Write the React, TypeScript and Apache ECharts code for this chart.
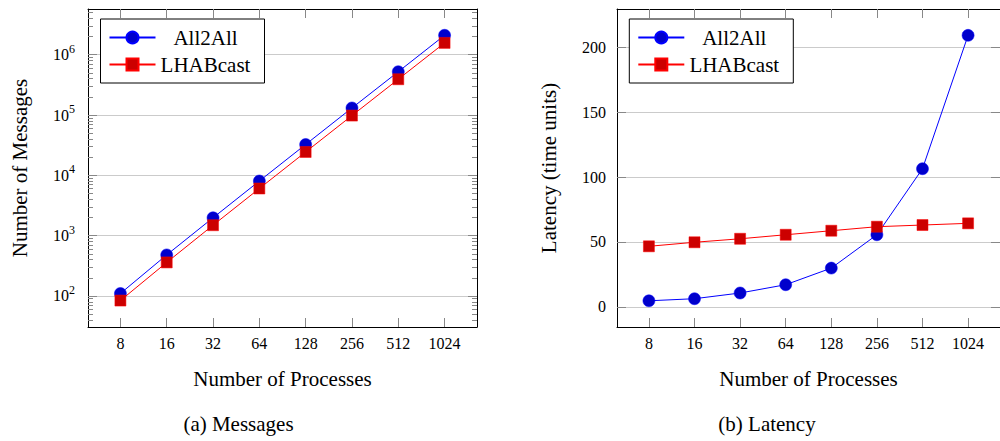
import React, { useEffect, useRef } from 'react';
import * as echarts from 'echarts';

const processes = [8, 16, 32, 64, 128, 256, 512, 1024];
const msgAll2All = [110, 480, 1980, 8060, 32500, 131000, 523000, 2100000];
const msgLHABcast = [84, 360, 1490, 6050, 24400, 98000, 392000, 1570000];
const latAll2All = [4.6, 6.2, 10.6, 17.0, 29.8, 55.5, 106.4, 209.2];
const latLHABcast = [46.6, 49.7, 52.4, 55.5, 58.6, 61.7, 63.0, 64.3];
const msgTicks = [100, 1000, 10000, 100000, 1000000];
const msgMinorTicks = [
  40, 50, 60, 70, 80, 90,
  200, 300, 400, 500, 600, 700, 800, 900,
  2000, 3000, 4000, 5000, 6000, 7000, 8000, 9000,
  20000, 30000, 40000, 50000, 60000, 70000, 80000, 90000,
  200000, 300000, 400000, 500000, 600000, 700000, 800000, 900000,
  2000000, 3000000, 4000000, 5000000,
];
const latTicks = [0, 50, 100, 150, 200];
const seriesNames = ['All2All', 'LHABcast'];
const captions = ['(a) Messages', '(b) Latency'];

const FONT = 'Liberation Serif';
const TICK_COLOR = '#888';
const GRID_COLOR = '#cbcbcb';
const TICK_FONT = 16;

const xMin = 8 / Math.pow(2, 0.7);
const xMax = 1024 * Math.pow(2, 0.7);

const tickRich = {
  t: { fontFamily: FONT, fontSize: TICK_FONT, color: '#000' },
};

function xAxes(gridIndex: number) {
  const common = {
    type: 'log',
    logBase: 2,
    gridIndex,
    min: xMin,
    max: xMax,
    axisLine: { show: true, onZero: false, lineStyle: { color: '#000', width: 1 } },
    axisTick: { show: true, inside: true, length: 9, customValues: processes, lineStyle: { color: TICK_COLOR, width: 1 } },
    splitLine: { show: false },
  };
  return [
    {
      ...common,
      position: 'bottom',
      axisLabel: {
        show: true,
        customValues: processes,
        formatter: (v: number) => `{t|${Math.round(v)}}`,
        fontFamily: FONT,
        fontSize: TICK_FONT,
        color: '#000',
        margin: 8,
        hideOverlap: false,
        rich: tickRich,
      },
      name: 'Number of Processes',
      nameLocation: 'middle',
      nameGap: 41,
      nameTextStyle: { fontFamily: FONT, fontSize: 21, color: '#000' },
    },
    {
      ...common,
      position: 'top',
      axisLabel: { show: false },
    },
  ];
}

function msgYAxes() {
  const common = {
    type: 'log',
    gridIndex: 0,
    min: 30.6,
    max: 5.73e6,
  };
  return [
    {
      ...common,
      position: 'left',
      axisLine: { show: true, onZero: false, lineStyle: { color: '#000', width: 1 } },
      axisTick: { show: true, inside: true, length: 9, customValues: msgTicks, lineStyle: { color: TICK_COLOR } },
      axisLabel: {
        show: true,
        customValues: msgTicks,
        formatter: (v: number) => `{b|10}{s|${Math.round(Math.log10(v))}}`,
        margin: 13,
        fontFamily: FONT,
        rich: {
          b: { fontFamily: FONT, fontSize: TICK_FONT, color: '#000', lineHeight: 24, verticalAlign: 'middle' },
          s: { fontFamily: FONT, fontSize: 12, color: '#000', lineHeight: 10, verticalAlign: 'top' },
        },
      },
      splitLine: { show: true, lineStyle: { color: GRID_COLOR, width: 1 } },
      name: 'Number of Messages',
      nameLocation: 'middle',
      nameGap: 58,
      nameTextStyle: { fontFamily: FONT, fontSize: 21, color: '#000' },
    },
    {
      ...common,
      position: 'left',
      axisLine: { show: false },
      axisTick: { show: true, inside: true, length: 5, customValues: msgMinorTicks, lineStyle: { color: TICK_COLOR } },
      axisLabel: { show: false },
      splitLine: { show: false },
    },
    {
      ...common,
      position: 'right',
      axisLine: { show: true, onZero: false, lineStyle: { color: '#000', width: 1 } },
      axisTick: { show: true, inside: true, length: 9, customValues: msgTicks, lineStyle: { color: TICK_COLOR } },
      axisLabel: { show: false },
      splitLine: { show: false },
    },
    {
      ...common,
      position: 'right',
      axisLine: { show: false },
      axisTick: { show: true, inside: true, length: 5, customValues: msgMinorTicks, lineStyle: { color: TICK_COLOR } },
      axisLabel: { show: false },
      splitLine: { show: false },
    },
  ];
}

function latYAxes() {
  const common = {
    type: 'value',
    gridIndex: 1,
    min: -15.6,
    max: 229.5,
  };
  return [
    {
      ...common,
      position: 'left',
      axisLine: { show: true, onZero: false, lineStyle: { color: '#000', width: 1 } },
      axisTick: { show: true, inside: true, length: 9, customValues: latTicks, lineStyle: { color: TICK_COLOR } },
      axisLabel: {
        show: true,
        customValues: latTicks,
        formatter: (v: number) => `{t|${Math.round(v)}}`,
        fontFamily: FONT,
        fontSize: TICK_FONT,
        color: '#000',
        margin: 11,
        rich: tickRich,
      },
      splitLine: { show: true, lineStyle: { color: GRID_COLOR, width: 1 } },
      name: 'Latency (time units)',
      nameLocation: 'middle',
      nameGap: 58,
      nameTextStyle: { fontFamily: FONT, fontSize: 21, color: '#000' },
    },
    {
      ...common,
      position: 'right',
      axisLine: { show: true, onZero: false, lineStyle: { color: '#000', width: 1 } },
      axisTick: { show: true, inside: true, length: 9, customValues: latTicks, lineStyle: { color: TICK_COLOR } },
      axisLabel: { show: false },
      splitLine: { show: false },
    },
  ];
}

function lineSeries(name: string, xAxisIndex: number, yAxisIndex: number, values: number[], kind: 'blue' | 'red') {
  const blue = kind === 'blue';
  return {
    type: 'line',
    name,
    xAxisIndex,
    yAxisIndex,
    data: processes.map((p, i) => [p, values[i]]),
    symbol: blue ? 'circle' : 'rect',
    symbolSize: blue ? 12 : 11,
    lineStyle: { color: blue ? '#0000ff' : '#ff0000', width: 1 },
    itemStyle: { color: blue ? '#0000cc' : '#cc0000', borderColor: blue ? '#0000ff' : '#ff0000', borderWidth: 0.5 },
    emphasis: { disabled: true },
    z: blue ? 2 : 3,
  };
}

function legend(left: number) {
  return {
    left,
    top: 19,
    orient: 'vertical',
    data: seriesNames,
    itemWidth: 46,
    itemHeight: 15,
    itemGap: 6,
    padding: [8, 14, 8, 8],
    borderColor: '#000',
    borderWidth: 1,
    backgroundColor: '#fff',
    selectedMode: false,
    formatter: (n: string) => `{c|${n}}`,
    textStyle: {
      fontFamily: FONT,
      fontSize: 21,
      color: '#000',
      rich: { c: { width: 90, align: 'center', fontFamily: FONT, fontSize: 21, color: '#000', lineHeight: 24 } },
    },
  };
}

const option: any = {
  animation: false,
  backgroundColor: '#fff',
  textStyle: { fontFamily: FONT },
  grid: [
    { left: 88, top: 9, width: 389, height: 318 },
    { left: 617, top: 9, width: 388, height: 318 },
  ],
  xAxis: [...xAxes(0), ...xAxes(1)],
  yAxis: [...msgYAxes(), ...latYAxes()],
  legend: [legend(100.5), legend(629.3)],
  series: [
    lineSeries('All2All', 0, 0, msgAll2All, 'blue'),
    lineSeries('LHABcast', 0, 0, msgLHABcast, 'red'),
    lineSeries('All2All', 2, 4, latAll2All, 'blue'),
    lineSeries('LHABcast', 2, 4, latLHABcast, 'red'),
  ],
  graphic: [
    {
      type: 'text',
      x: 238.5,
      y: 424,
      style: { text: captions[0], fontFamily: FONT, fontSize: 21, fill: '#000', align: 'center', verticalAlign: 'middle' },
    },
    {
      type: 'text',
      x: 767,
      y: 424,
      style: { text: captions[1], fontFamily: FONT, fontSize: 21, fill: '#000', align: 'center', verticalAlign: 'middle' },
    },
  ],
};

export default function App() {
  const ref = useRef<HTMLDivElement>(null);
  useEffect(() => {
    const chart = echarts.init(ref.current!, null, { renderer: 'svg' });
    chart.setOption(option);
    return () => chart.dispose();
  }, []);
  return (
    <div
      ref={ref}
      style={{ position: 'absolute', left: 0, top: 0, width: 1000, height: 441, background: '#fff' }}
    />
  );
}
